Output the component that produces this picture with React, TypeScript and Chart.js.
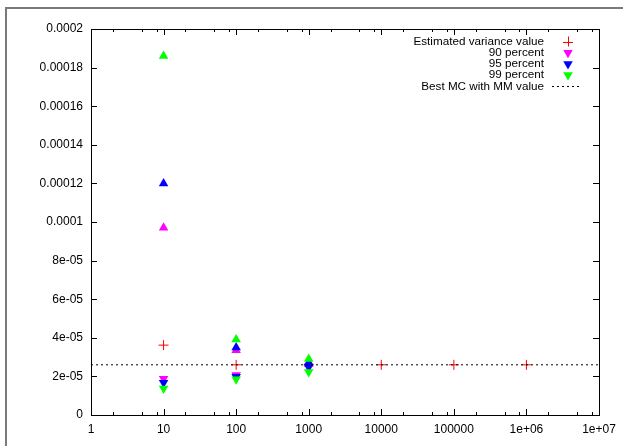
import React, { useEffect, useRef } from 'react';
import { Chart, registerables } from 'chart.js';

Chart.register(...registerables);

// ---- data ----
const estimatedX = [10, 100, 1000, 10000, 100000, 1000000];
const estimatedVariance = [3.62e-5, 2.6e-5, 2.6e-5, 2.6e-5, 2.6e-5, 2.6e-5];

const percentX = [10, 100, 1000];
const p90Upper = [9.7e-5, 3.35e-5, 2.64e-5];
const p90Lower = [1.88e-5, 2.07e-5, 2.52e-5];
const p95Upper = [1.2e-4, 3.5e-5, 2.72e-5];
const p95Lower = [1.67e-5, 1.98e-5, 2.48e-5];
const p99Upper = [1.86e-4, 3.91e-5, 2.9e-5];
const p99Lower = [1.37e-5, 1.85e-5, 2.23e-5];

const bestMcValue = 2.6e-5;

const xMin = 1;
const xMax = 1e7;
const xTickValues = [1, 10, 100, 1000, 10000, 100000, 1000000, 10000000];
const xTickLabels = ['1', '10', '100', '1000', '10000', '100000', '1e+06', '1e+07'];
const xMinorFactors = [2, 5, 8];

const yMin = 0;
const yMax = 2e-4;
const yTickValues = [0, 2e-5, 4e-5, 6e-5, 8e-5, 1e-4, 1.2e-4, 1.4e-4, 1.6e-4, 1.8e-4, 2e-4];
const yTickLabels = ['0', '2e-05', '4e-05', '6e-05', '8e-05', '0.0001', '0.00012', '0.00014', '0.00016', '0.00018', '0.0002'];

const legendLabels = ['Estimated variance value', '90 percent', '95 percent', '99 percent', 'Best MC with MM value'];

const RED = '#ff0000';
const MAGENTA = '#ff00ff';
const BLUE = '#0000ff';
const GREEN = '#00ff00';

const FONT = '"Liberation Sans", Arial, Helvetica, sans-serif';
const W = 623;
const H = 446;

const pts = (xs: number[], ys: number[]) => xs.map((x, i) => ({ x, y: ys[i] }));

function tri(ctx: CanvasRenderingContext2D, x: number, y: number, r: number, down: boolean, color: string) {
  const s = down ? -1 : 1;
  ctx.beginPath();
  ctx.moveTo(x, y - s * r);
  ctx.lineTo(x + r * Math.sin((2 * Math.PI) / 3), y + s * r * 0.5);
  ctx.lineTo(x - r * Math.sin((2 * Math.PI) / 3), y + s * r * 0.5);
  ctx.closePath();
  ctx.fillStyle = color;
  ctx.fill();
}

const decorPlugin = {
  id: 'gnuplotDecor',
  beforeDraw(chart: any) {
    const ctx = chart.ctx as CanvasRenderingContext2D;
    ctx.save();
    ctx.fillStyle = '#ffffff';
    ctx.fillRect(0, 0, chart.width, chart.height);
    ctx.fillStyle = '#7a7a7a';
    ctx.fillRect(5, 7, 2, chart.height - 7);
    ctx.fillRect(5, 7, chart.width - 5, 2);
    ctx.restore();
  },
  afterDraw(chart: any) {
    const ctx = chart.ctx as CanvasRenderingContext2D;
    const { left, right, top, bottom } = chart.chartArea;
    const xs = chart.scales.x;
    const ys = chart.scales.y;
    ctx.save();
    ctx.strokeStyle = '#000000';
    ctx.lineWidth = 1;
    ctx.beginPath();
    // major x ticks
    xTickValues.forEach((v) => {
      const px = Math.round(xs.getPixelForValue(v)) + 0.5;
      ctx.moveTo(px, bottom);
      ctx.lineTo(px, bottom - 6);
      ctx.moveTo(px, top);
      ctx.lineTo(px, top + 6);
    });
    // minor x ticks
    for (let d = xMin; d < xMax; d *= 10) {
      xMinorFactors.forEach((f) => {
        const px = Math.round(xs.getPixelForValue(d * f)) + 0.5;
        ctx.moveTo(px, bottom);
        ctx.lineTo(px, bottom - 3);
        ctx.moveTo(px, top);
        ctx.lineTo(px, top + 3);
      });
    }
    // y ticks
    yTickValues.forEach((v) => {
      const py = Math.round(ys.getPixelForValue(v)) + 0.5;
      ctx.moveTo(left, py);
      ctx.lineTo(left + 6, py);
      ctx.moveTo(right, py);
      ctx.lineTo(right - 6, py);
    });
    ctx.stroke();
    ctx.strokeRect(Math.round(left) + 0.5, Math.round(top) + 0.5, Math.round(right - left), Math.round(bottom - top));

    // legend
    const textRight = right - 55;
    const symX = right - 31;
    const rowY0 = top + 12.5;
    const rowStep = 11.2;
    ctx.font = `11.7px ${FONT}`;
    ctx.fillStyle = '#000000';
    ctx.textAlign = 'right';
    ctx.textBaseline = 'middle';
    legendLabels.forEach((label, i) => {
      const y = rowY0 + i * rowStep;
      ctx.fillStyle = '#000000';
      ctx.fillText(label, textRight, y);
      if (i === 0) {
        ctx.strokeStyle = RED;
        ctx.beginPath();
        ctx.moveTo(symX - 5, Math.round(y) + 0.5);
        ctx.lineTo(symX + 5, Math.round(y) + 0.5);
        ctx.moveTo(Math.round(symX) + 0.5, y - 5);
        ctx.lineTo(Math.round(symX) + 0.5, y + 5);
        ctx.stroke();
      } else if (i < 4) {
        tri(ctx, symX, y, 5.5, true, [MAGENTA, BLUE, GREEN][i - 1]);
      } else {
        ctx.strokeStyle = '#000000';
        ctx.setLineDash([2, 3]);
        ctx.beginPath();
        ctx.moveTo(symX - 16, Math.round(y) + 0.5);
        ctx.lineTo(symX + 14, Math.round(y) + 0.5);
        ctx.stroke();
        ctx.setLineDash([]);
      }
    });
    ctx.restore();
  },
};

export default function App() {
  const ref = useRef<HTMLCanvasElement | null>(null);

  useEffect(() => {
    if (!ref.current) return;
    const triangleSet = (label: string, data: number[], color: string, down: boolean, order: number) => ({
      type: 'scatter' as const,
      label,
      data: pts(percentX, data),
      pointStyle: 'triangle',
      pointRotation: down ? 180 : 0,
      pointRadius: 5.5,
      pointBackgroundColor: color,
      pointBorderColor: color,
      pointBorderWidth: 0,
      showLine: false,
      order,
    });

    const chart = new Chart(ref.current, {
      type: 'scatter',
      data: {
        datasets: [
          {
            type: 'scatter',
            label: 'Estimated variance value',
            data: pts(estimatedX, estimatedVariance),
            pointStyle: 'cross',
            pointRadius: 5,
            pointBorderColor: RED,
            pointBorderWidth: 1,
            showLine: false,
            order: 10,
          },
          triangleSet('90 percent upper', p90Upper, MAGENTA, false, 9),
          triangleSet('90 percent', p90Lower, MAGENTA, true, 8),
          triangleSet('95 percent upper', p95Upper, BLUE, false, 7),
          triangleSet('95 percent', p95Lower, BLUE, true, 6),
          triangleSet('99 percent upper', p99Upper, GREEN, false, 5),
          triangleSet('99 percent', p99Lower, GREEN, true, 4),
          {
            type: 'line',
            label: 'Best MC with MM value',
            data: [
              { x: xMin, y: bestMcValue },
              { x: xMax, y: bestMcValue },
            ],
            borderColor: '#000000',
            borderWidth: 1,
            borderDash: [2, 3],
            pointRadius: 0,
            fill: false,
            order: 1,
          },
        ] as any,
      },
      options: {
        animation: false,
        responsive: false,
        devicePixelRatio: 1,
        events: [],
        layout: { padding: { left: 0, top: 29, right: 24, bottom: 0 } },
        plugins: {
          legend: { display: false },
          tooltip: { enabled: false },
          title: { display: false },
        },
        scales: {
          x: {
            type: 'logarithmic',
            min: xMin,
            max: xMax,
            grid: { display: false, drawTicks: false },
            border: { display: false },
            afterBuildTicks: (scale: any) => {
              scale.ticks = xTickValues.map((v) => ({ value: v }));
            },
            afterFit: (scale: any) => {
              scale.height = 31;
            },
            ticks: {
              autoSkip: false,
              maxRotation: 0,
              minRotation: 0,
              padding: 7,
              color: '#000000',
              font: { family: FONT, size: 12 },
              callback: (value: any) => {
                const i = xTickValues.indexOf(Number(value));
                return i >= 0 ? xTickLabels[i] : '';
              },
            },
          },
          y: {
            type: 'linear',
            min: yMin,
            max: yMax,
            grid: { display: false, drawTicks: false },
            border: { display: false },
            afterBuildTicks: (scale: any) => {
              scale.ticks = yTickValues.map((v) => ({ value: v }));
            },
            afterFit: (scale: any) => {
              scale.width = 91;
            },
            ticks: {
              autoSkip: false,
              padding: 8,
              color: '#000000',
              font: { family: FONT, size: 12 },
              callback: (value: any) => {
                const i = yTickValues.findIndex((v) => Math.abs(v - Number(value)) < 1e-12);
                return i >= 0 ? yTickLabels[i] : '';
              },
            },
          },
        },
      } as any,
      plugins: [decorPlugin],
    });
    return () => chart.destroy();
  }, []);

  return (
    <div style={{ position: 'absolute', left: 0, top: 0, width: W, height: H, background: '#fff' }}>
      <canvas ref={ref} width={W} height={H} style={{ display: 'block', width: W, height: H }} />
    </div>
  );
}
